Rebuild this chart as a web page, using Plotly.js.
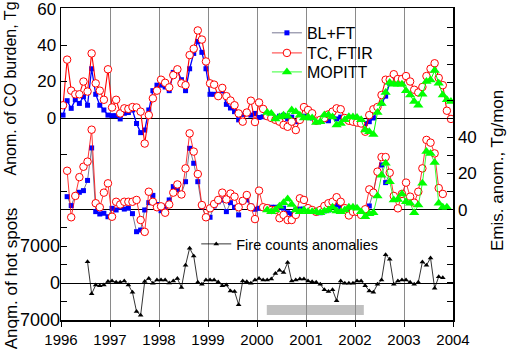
<!DOCTYPE html>
<html><head><meta charset="utf-8">
<script src="https://cdn.plot.ly/plotly-3.0.1.min.js"></script>
<style>html,body{margin:0;padding:0;background:#fff}#chart{width:507px;height:349px}</style>
</head><body><div id="chart"></div>
<script>
// ---- time base: monthly values, index 0 = Jan 1996 ----
const firstYear = 1996;
const yearTicks = [1996, 1997, 1998, 1999, 2000, 2001, 2002, 2003, 2004];
const yearLabels = ['1996', '1997', '1998', '1999', '2000', '2001', '2002', '2003', '2004'];

// ---- top panel: anomaly of CO burden, Tg ----
const blTopStart = 0;
const blTop = [1.6, 9.5, 5.3, 10, 8, 11.7, 7, 27, 13, 7, 4.4, 1.6,
  1.3, 1.3, -0.5, 2.6, 3, 4.4, -3, -8, -6.6, 4.4, 15, 18,
  18, 17, 15, 25, 26, 21, 15, 27, 35.4, 42, 36, 27,
  13, 13, 13, 15, 7.5, 5.5, 3.5, -1, 2, 3, 1.6, 2.5,
  0.3, 0.7, 0.5, 1, 0, 1, 1.5, -0.5, 0.5, -2, -0.5, 1,
  0.5, 0, -1.5, -1.5, -1, -1.5, 1.6, -0.5, 0.5, 0, -0.5, -1,
  -1.5, -2.5, -3, -2, 0, 4, 8, 12, 19, 22, 19, 20];
const tcTopStart = 0;
const tcTop = [7, 32, 15, 13, 13, 20, 14.5, 35.4, 19, 15, 10, 26.7,
  5.8, 10, 2.5, 5.3, 5, 6, 5.8, 3.5, -14, 1.6, 10.8, 15,
  21, 19.3, 16.8, 23.5, 26.7, 19, 18, 34.5, 38, 48, 43, 31,
  19, 18.3, 12, 16.5, 12, 9.6, 7, 2.5, -2, 3, 9.5, -2.2,
  8.5, 5, 1, 0, -1, -2, -3.8, -4.8, -2, -6.6, -1, 6,
  4.4, 2.6, -1.5, -1, 0, 2, 3.5, 5.3, 4.8, 0, -1.5, -2,
  -2.5, -3, -7.5, 1.6, 4.8, 6, 12.6, 21, 21, 24, 21.4, 21.4,
  23, 20, 15.5, 14, 17, 23, 27, 30, 22, 18, 4, -0.5];
const mopTopStart = 50;
const mopTop = [3, 2.5, -0.5, 0.5, 1.5, 1, 4.4, 3.5, 1.5, 0,
  0.5, 0, -2.5, -2, 1.6, 1.6, 0.5, -3.8, -3, -1, 0.7, 0.5,
  0.3, -1, -6.6, -7.5, -9, 3, 8, 14, 19.5, 18.5, 18.5, 18.5,
  15, 12.6, 9, 7, 13, 20, 20.8, 26, 19, 12.6, 10, 9];

// ---- middle panel: emission anomaly, Tg/mon ----
const blMidStart = 1;
const blMid = [7.3, 2.4, 8, 9.7, 10.6, 16.2, 34, -0.9, -2.2, -1.8, -3.7,
  0.9, 0, 1.5, 0.5, 1, -2, -11.9, -11, 0, 4, 8, 3,
  -0.4, 2, 5.5, 12.8, 11, 9, 15.5, 33.8, 25.6, 15.5, 1.8, -4,
  -4, 2.2, 4.5, 5.5, -0.9, 4, 1.5, -2.7, 5.5, 5.5, 2.2, 0.4,
  0.9, 1.5, 1.5, 1.5, 1.5, 1.5, 1, -1.5, -2, 0, 0.5, 0.5,
  0, 0, -1.5, -1.5, -0.5, 0, 2, 2.7, 1.5, 0.5, 0, -0.5,
  -1, -1.5, -1.5, 2.2, 10, 21, 24.7, 15, 20];
const tcMidStart = 1;
const tcMid = [21.5, -4, 7.7, 18, 23.7, 26.5, 44, 3.7, 1.5, 9.5, 14.6,
  -3.7, 4.5, 3, 4.5, 4.5, 4.5, 5.5, -5.5, -12, 10, 4.5, 1.5,
  2, -1.5, 3, 9.5, 14, 8.5, 22.8, 42, 32, 19.7, 2.7, -4,
  0.9, 3.3, 5.5, 9.5, 5.8, 9, 7.3, 1.5, 5, 8.2, 1.5, -5,
  10.6, 1.5, 1, 0, 0, -4.5, -2.7, -5.5, -5.5, -2.7, 6.4, 5.5,
  1, 0, -1, 0, 2.2, 3.7, 4.5, 7, 4.5, 1, -3, -1,
  -1, -2.7, 0.4, 11.3, 9.5, 21, 29, 29, 20.4, 7.7, 0.9, 8.8,
  15, 7.3, 4, 10, 22.8, 38.4, 36.9, 31, 12, 8.8];
const mopMidStart = 50;
const mopMid = [0, -1, 0, 2, 4, 6, 3, 0, -1, 0,
  -1, -1, -1, -1.5, -0.5, 0, 1.5, -0.5, -1, 0, 1.5, 1.5,
  1, -1, -3.7, -2, -1.5, 7.7, 19, 25.6, 15.5, 5.5, 5.8, 8.8,
  4.5, 3.7, -1.5, 2.7, 14.6, 32, 31, 26, 3.7, 1.5, 1.5];

// ---- bottom panel: fire counts anomalies ----
const fireStart = 6;
const fire = [4000, -2050, -400, -500, -400, 300,
  400, 150, 150, 370, -370, -1750, -5400, -6100, 300, 870, -60, 560,
  560, 560, 0, 370, 870, -870, 3360, 6590, 5100, 130, -250, 560,
  560, 560, 200, -500, -370, -1490, -1620, -4100, 370, 250, -60, 560,
  870, 560, 560, 750, 1800, 2430, 2000, 3860, 370, 560, 750, 750,
  370, 250, 130, -250, -1300, -1620, -1300, -3360, 370, -60, -60, -60,
  370, 370, -500, -1490, -1740, -250, 560, 5350, 4480, -250, 370, 560,
  560, 130, -250, 130, 3980, 3360, 4730, -990, 1180, 990];

// ---- highlighted period (grey bar) ----
const periodStart = 2000.2;
const periodEnd = 2002.18;

// ---- axis ticks ----
const coTicks = [-60, -40, -20, 0, 20, 40, 60];
const coTickText = ['', '', '', '0', '20', '40', '60'];
const emTicks = [-50, -40, -30, -20, -10, 0, 10, 20, 30, 40, 50, 60, 70, 80, 90, 100];
const emTickText = ['', '', '', '', '', '0', '', '20', '', '40', '', '', '', '', '', ''];
const hsTicks = [-7000, -3500, 0, 3500, 7000];
const hsTickText = ['-7000', '', '0', '', '7000'];

function months(start, n) {
  const xs = [];
  for (let i = 0; i < n; i++) xs.push(firstYear + (start + i + 0.5) / 12);
  return xs;
}

const FONT = 'Arial, "Liberation Sans", sans-serif';
const BLUE = '#0000ff', RED = '#ff0000', GREEN = '#00ff00';

const traces = [
  // top panel
  {x: months(blTopStart, blTop.length), y: blTop, yaxis: 'y', mode: 'lines+markers', showlegend: false,
   line: {color: BLUE, width: 1.3}, marker: {symbol: 'square', size: 5, color: BLUE}},
  {x: months(tcTopStart, tcTop.length), y: tcTop, yaxis: 'y', mode: 'lines+markers', showlegend: false,
   line: {color: RED, width: 1.1}, marker: {symbol: 'circle', size: 7.5, color: '#fff', line: {color: RED, width: 1}}},
  {x: months(mopTopStart, mopTop.length), y: mopTop, yaxis: 'y', mode: 'lines+markers', showlegend: false,
   line: {color: GREEN, width: 1}, marker: {symbol: 'triangle-up', size: 9, color: GREEN}},
  // middle panel
  {x: months(blMidStart, blMid.length), y: blMid, yaxis: 'y2', mode: 'lines+markers', name: 'BL+FT', legend: 'legend',
   line: {color: '#555577', width: 0.8}, marker: {symbol: 'square', size: 5, color: BLUE}},
  {x: months(tcMidStart, tcMid.length), y: tcMid, yaxis: 'y2', mode: 'lines+markers', name: 'TC, FTIR', legend: 'legend3',
   line: {color: RED, width: 0.8}, marker: {symbol: 'circle', size: 7.5, color: '#fff', line: {color: RED, width: 1}}},
  {x: months(mopMidStart, mopMid.length), y: mopMid, yaxis: 'y2', mode: 'lines+markers', name: 'MOPITT', legend: 'legend4',
   line: {color: GREEN, width: 0.8}, marker: {symbol: 'triangle-up', size: 9, color: GREEN}},
  // bottom panel
  {x: months(fireStart, fire.length), y: fire, yaxis: 'y3', mode: 'lines+markers', name: 'Fire counts anomalies',
   legend: 'legend2', line: {color: '#000', width: 0.8}, marker: {symbol: 'triangle-up', size: 5, color: '#000'}}
];

const axisCommon = {showgrid: false, zeroline: true, zerolinecolor: '#000', zerolinewidth: 1,
  ticks: 'inside', ticklen: 6, tickcolor: '#000', tickwidth: 1, fixedrange: true, ticklabeloverflow: 'allow'};

const legendCommon = {xanchor: 'left', yanchor: 'top', bgcolor: 'rgba(0,0,0,0)', borderwidth: 0};

const layout = {
  width: 507, height: 349,
  margin: {l: 61, r: 54, t: 8, b: 29, pad: 0},
  paper_bgcolor: '#fff', plot_bgcolor: '#fff',
  font: {family: FONT, color: '#000', size: 15},
  xaxis: {range: [1996, 2004], tickvals: yearTicks, ticktext: yearLabels, ticks: 'outside', ticklen: 5,
    tickcolor: '#000', showgrid: true, gridcolor: '#8a8a8a', gridwidth: 1, showline: true, linecolor: '#000',
    linewidth: 1.5, mirror: true, zeroline: false, tickfont: {size: 15, family: FONT}, ticklabeloverflow: 'allow'},
  yaxis: Object.assign({}, axisCommon, {range: [-110.7, 60.3], tickvals: coTicks, ticktext: coTickText,
    showline: true, linecolor: '#000', linewidth: 1.5, mirror: true, tickfont: {size: 17, family: FONT}}),
  yaxis2: Object.assign({}, axisCommon, {overlaying: 'y', side: 'right', range: [-60.3, 110.7],
    tickvals: emTicks, ticktext: emTickText, showline: true, linecolor: '#000', linewidth: 1.5,
    tickfont: {size: 17, family: FONT}}),
  yaxis3: Object.assign({}, axisCommon, {overlaying: 'y', side: 'left', range: [-7000, 52027],
    tickvals: hsTicks, ticktext: hsTickText, showline: false, tickfont: {size: 18, family: FONT}}),
  legend: Object.assign({}, legendCommon, {x: 0.5253, y: 0.9746, font: {size: 16, family: FONT}}),
  legend3: Object.assign({}, legendCommon, {x: 0.5253, y: 0.9102, font: {size: 16, family: FONT}}),
  legend4: Object.assign({}, legendCommon, {x: 0.5253, y: 0.8493, font: {size: 16, family: FONT}}),
  legend2: Object.assign({}, legendCommon, {x: 0.345, y: 0.295, font: {size: 14.5, family: FONT}}),
  shapes: [{type: 'rect', xref: 'x', yref: 'y3', x0: periodStart, x1: periodEnd, y0: -6050, y1: -4150,
    fillcolor: '#c0c0c0', line: {width: 0}, layer: 'below'}],
  annotations: [
    {text: 'Anom. of CO burden, Tg', xref: 'paper', yref: 'paper', x: -0.1263, y: 0.7436, textangle: -90,
     showarrow: false, font: {size: 16, family: FONT}, xanchor: 'center', yanchor: 'middle'},
    {text: 'Anom. of hot spots', xref: 'paper', yref: 'paper', x: -0.1263, y: 0.135, textangle: -90,
     showarrow: false, font: {size: 17, family: FONT}, xanchor: 'center', yanchor: 'middle'},
    {text: 'Emis. anom., Tg/mon', xref: 'paper', yref: 'paper', x: 1.1148, y: 0.4776, textangle: -90,
     showarrow: false, font: {size: 17, family: FONT}, xanchor: 'center', yanchor: 'middle'}
  ]
};

Plotly.newPlot('chart', traces, layout, {displayModeBar: false, staticPlot: true});
</script>
</body></html>
